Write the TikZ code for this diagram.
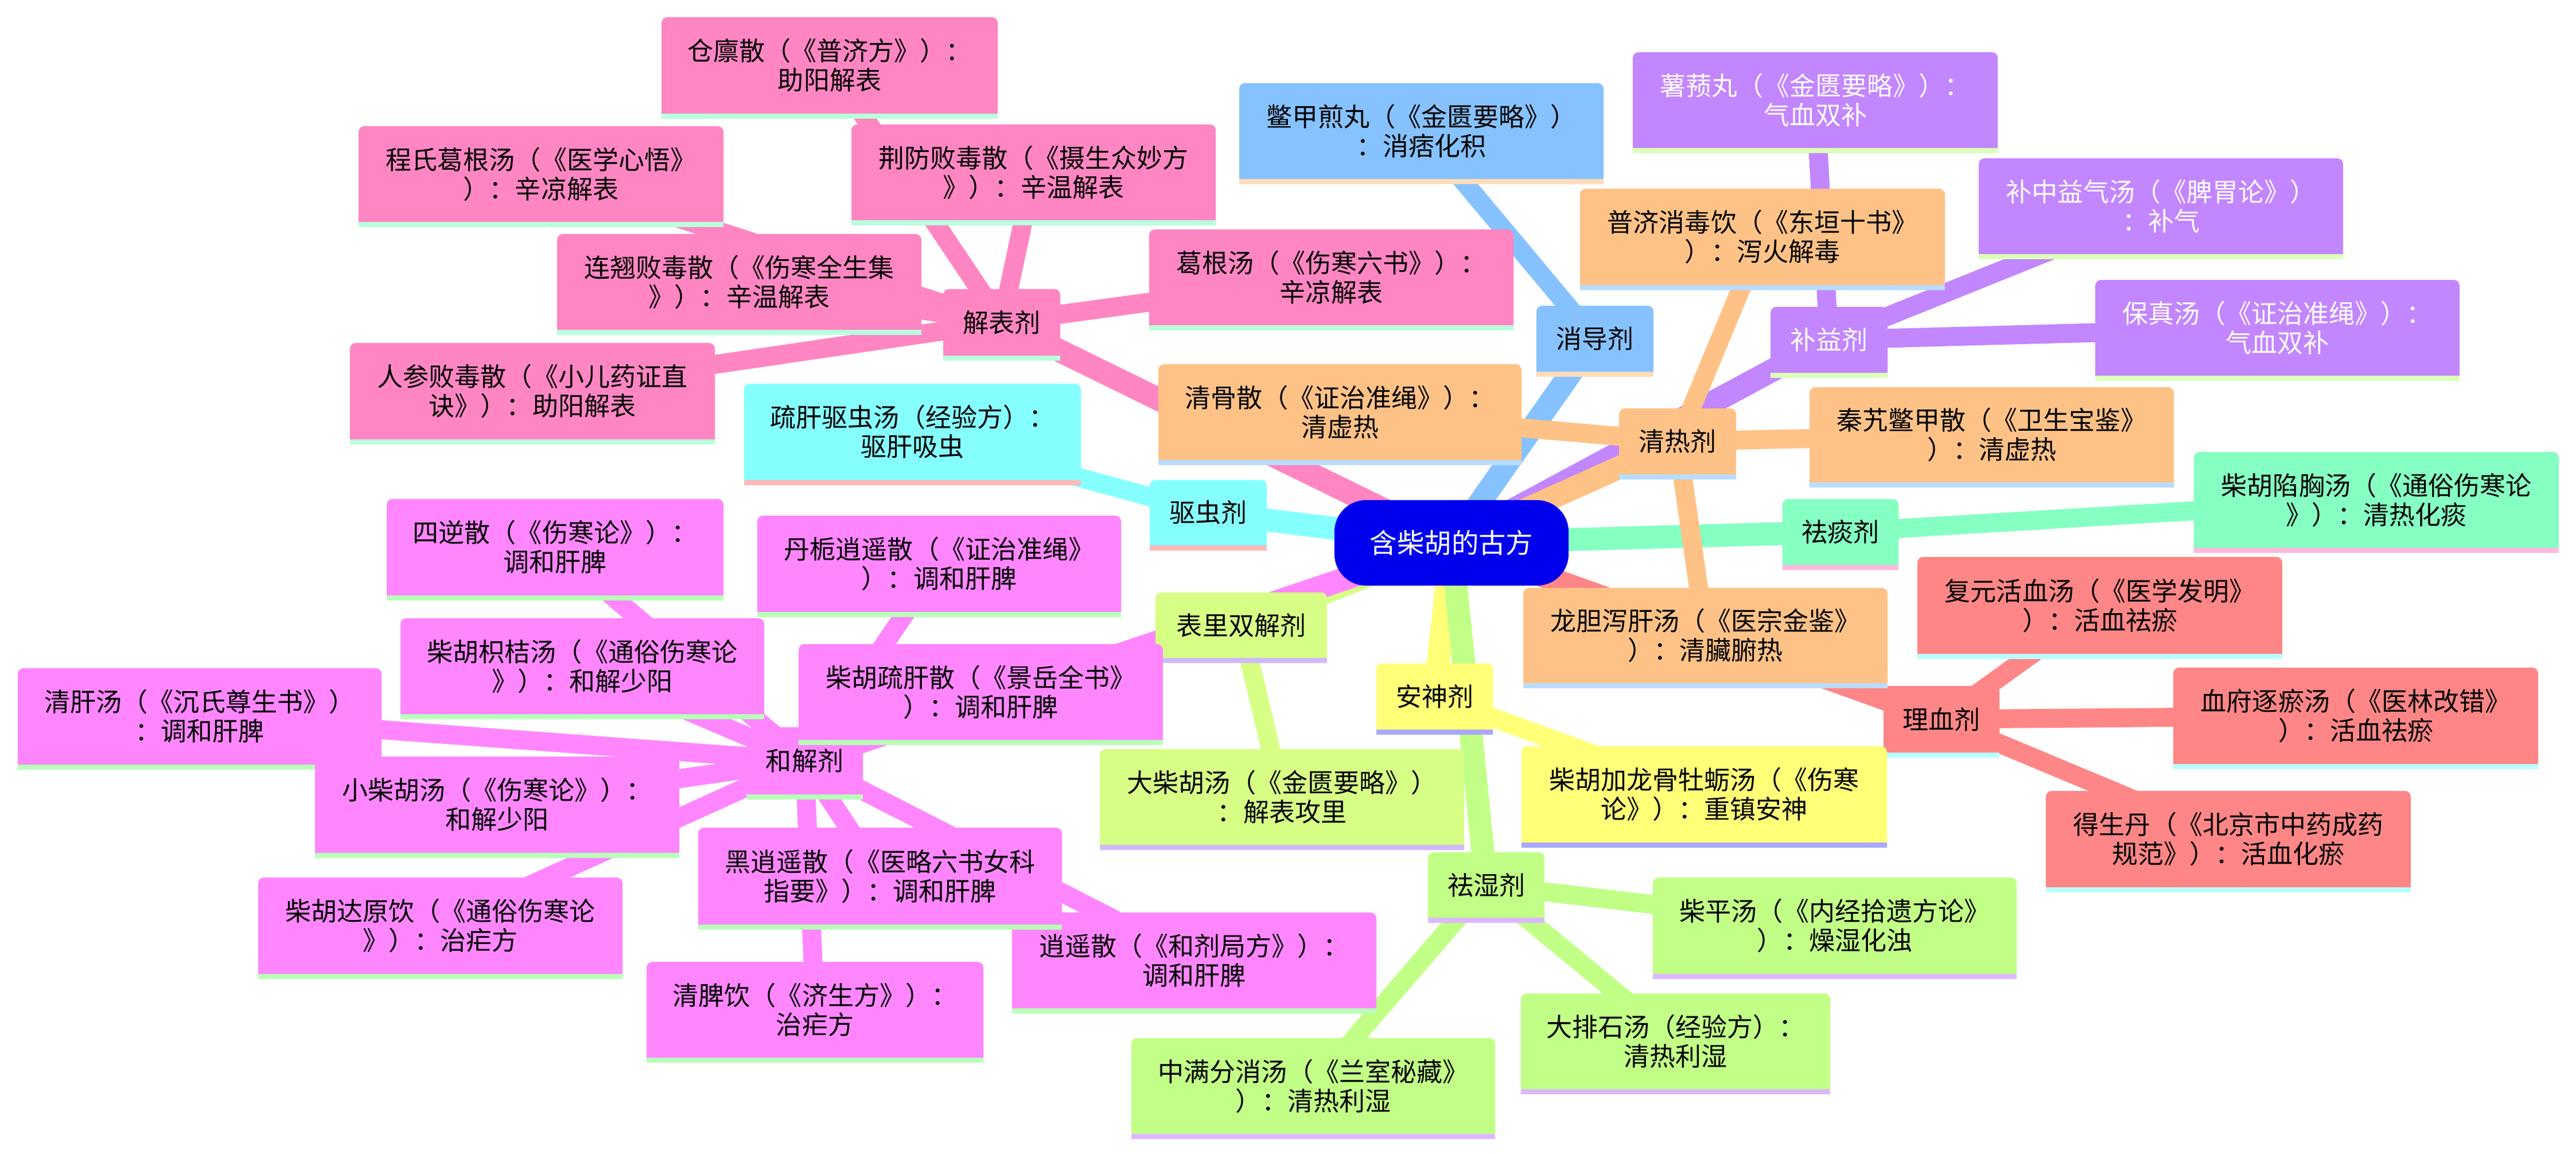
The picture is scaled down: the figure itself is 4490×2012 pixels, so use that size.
\documentclass[tikz,border=0pt]{standalone}
\usepackage{fontspec}
\newfontfamily\cjk{Noto Sans CJK SC}
\definecolor{rootc}{HTML}{0000EC}
\definecolor{cpink}{HTML}{FF86C2}\definecolor{spink}{HTML}{B9FFDC}
\definecolor{cblue}{HTML}{86C2FF}\definecolor{sblue}{HTML}{FFDCB9}
\definecolor{cpurp}{HTML}{C286FF}\definecolor{spurp}{HTML}{DCFFB9}
\definecolor{corng}{HTML}{FFC286}\definecolor{sorng}{HTML}{B9DCFF}
\definecolor{ccyan}{HTML}{86FFFF}\definecolor{scyan}{HTML}{FFB9B9}
\definecolor{cmint}{HTML}{86FFC2}\definecolor{smint}{HTML}{FFB9DC}
\definecolor{csalm}{HTML}{FF8686}\definecolor{ssalm}{HTML}{B9FFFF}
\definecolor{clime}{HTML}{D7FF86}\definecolor{slime}{HTML}{D0B9FF}
\definecolor{cmag}{HTML}{FF86FF}\definecolor{smag}{HTML}{B9FFB9}
\definecolor{cyel}{HTML}{FFFF78}\definecolor{syel}{HTML}{A9A9FF}
\definecolor{cgrn}{HTML}{C2FF86}\definecolor{sgrn}{HTML}{DCB9FF}
\pgfdeclarelayer{edges}
\pgfsetlayers{edges,main}
\tikzset{
  mmtext/.style={font=\cjk\fontsize{12.8pt}{14.5pt}\selectfont, align=center, inner sep=0pt},
  rootnode/.style={fill=rootc, text=white, rounded corners=0.55cm, minimum width=4.08cm, minimum height=1.49cm, inner sep=0pt, font=\cjk\fontsize{13.5pt}{16pt}\selectfont},
  eroot/.style={line width=0.4cm},
  eleaf/.style={line width=0.33cm}
}
% name, x1, y1, x2, y2(main bottom), fill, strip, text colour, text
\newcommand\mmnode[9]{%
  \fill[#6, rounded corners=0.1cm] (#2,#3) rectangle (#4,#5);
  \fill[#6] (#2,{(#3+#5)/2}) rectangle (#4,#5);
  \fill[#7] (#2,#5) rectangle (#4,{#5+9});
  \node[mmtext, text=#8] (#1) at ({(#2+#4)/2},{(#3+#5)/2}) {#9};
}
\begin{document}
\begin{tikzpicture}[x=0.01cm,y=-0.01cm]
\useasboundingbox (0,0) rectangle (4490,2012);
% root
\node[rootnode] (root) at (2530,946.5) {含柴胡的古方};
% categories
\mmnode{jbj}{1644}{504}{1848}{620}{cpink}{spink}{black}{解表剂}
\mmnode{xdj}{2678}{533}{2882}{648}{cblue}{sblue}{black}{消导剂}
\mmnode{byj}{3086}{535}{3290}{650}{cpurp}{spurp}{white}{补益剂}
\mmnode{qrj}{2822}{712}{3026}{827}{corng}{sorng}{black}{清热剂}
\mmnode{qcj}{2004}{837}{2208}{951}{ccyan}{scyan}{black}{驱虫剂}
\mmnode{qtj}{3107}{870}{3309}{985}{cmint}{smint}{black}{祛痰剂}
\mmnode{lxj}{3283}{1196}{3485}{1312}{csalm}{ssalm}{black}{理血剂}
\mmnode{blj}{2014}{1033}{2313}{1147}{clime}{slime}{black}{表里双解剂}
\mmnode{hjj}{1301}{1268}{1504}{1385}{cmag}{smag}{black}{和解剂}
\mmnode{asj}{2399}{1157}{2602}{1272}{cyel}{syel}{black}{安神剂}
\mmnode{qsj}{2489}{1486}{2692}{1600}{cgrn}{sgrn}{black}{祛湿剂}
% 解表剂 leaves
\mmnode{cls}{1153}{30}{1739}{198}{cpink}{spink}{black}{仓廪散（《普济方》）：\\助阳解表}
\mmnode{csgg}{625}{220}{1261}{387}{cpink}{spink}{black}{程氏葛根汤（《医学心悟》\\）：辛凉解表}
\mmnode{jfbd}{1484}{217}{2119}{384}{cpink}{spink}{black}{荆防败毒散（《摄生众妙方\\》）：辛温解表}
\mmnode{lqbd}{971}{408}{1606}{575}{cpink}{spink}{black}{连翘败毒散（《伤寒全生集\\》）：辛温解表}
\mmnode{ggt}{2003}{400}{2638}{567}{cpink}{spink}{black}{葛根汤（《伤寒六书》）：\\辛凉解表}
\mmnode{rsbd}{610}{598}{1246}{766}{cpink}{spink}{black}{人参败毒散（《小儿药证直\\诀》）：助阳解表}
% 消导剂 leaf
\mmnode{bjjw}{2160}{145}{2795}{312}{cblue}{sblue}{black}{鳖甲煎丸（《金匮要略》）\\：消痞化积}
% 补益剂 leaves
\mmnode{syw}{2846}{91}{3482}{258}{cpurp}{spurp}{white}{薯蓣丸（《金匮要略》）：\\气血双补}
\mmnode{bzyq}{3449}{276}{4084}{443}{cpurp}{spurp}{white}{补中益气汤（《脾胃论》）\\：补气}
\mmnode{bzt}{3652}{488}{4287}{655}{cpurp}{spurp}{white}{保真汤（《证治准绳》）：\\气血双补}
% 清热剂 leaves
\mmnode{pjxd}{2754}{329}{3390}{497}{corng}{sorng}{black}{普济消毒饮（《东垣十书》\\）：泻火解毒}
\mmnode{qgs}{2019}{635}{2652}{802}{corng}{sorng}{black}{清骨散（《证治准绳》）：\\清虚热}
\mmnode{qjbj}{3154}{675}{3789}{841}{corng}{sorng}{black}{秦艽鳖甲散（《卫生宝鉴》\\）：清虚热}
\mmnode{ldxg}{2655}{1025}{3290}{1191}{corng}{sorng}{black}{龙胆泻肝汤（《医宗金鉴》\\）：清臟腑热}
% 驱虫剂 leaf
\mmnode{sgqc}{1297}{669}{1884}{837}{ccyan}{scyan}{black}{疏肝驱虫汤（经验方）：\\驱肝吸虫}
% 祛痰剂 leaf
\mmnode{chxx}{3824}{788}{4460}{955}{cmint}{smint}{black}{柴胡陷胸汤（《通俗伤寒论\\》）：清热化痰}
% 理血剂 leaves
\mmnode{fyhx}{3342}{971}{3978}{1140}{csalm}{ssalm}{black}{复元活血汤（《医学发明》\\）：活血祛瘀}
\mmnode{xfzy}{3788}{1164}{4424}{1332}{csalm}{ssalm}{black}{血府逐瘀汤（《医林改错》\\）：活血祛瘀}
\mmnode{dsd}{3566}{1379}{4202}{1547}{csalm}{ssalm}{black}{得生丹（《北京市中药成药\\规范》）：活血化瘀}
% 和解剂 leaves
\mmnode{sns}{674}{870}{1261}{1038}{cmag}{smag}{black}{四逆散（《伤寒论》）：\\调和肝脾}
\mmnode{dzxy}{1320}{899}{1954}{1067}{cmag}{smag}{black}{丹栀逍遥散（《证治准绳》\\）：调和肝脾}
\mmnode{chzj}{698}{1078}{1332}{1245}{cmag}{smag}{black}{柴胡枳桔汤（《通俗伤寒论\\》）：和解少阳}
\mmnode{chsg}{1392}{1123}{2027}{1290}{cmag}{smag}{black}{柴胡疏肝散（《景岳全书》\\）：调和肝脾}
\mmnode{qgt}{31}{1165}{665}{1333}{cmag}{smag}{black}{清肝汤（《沉氏尊生书》）\\：调和肝脾}
\mmnode{xch}{549}{1319}{1184}{1487}{cmag}{smag}{black}{小柴胡汤（《伤寒论》）：\\和解少阳}
\mmnode{chdy}{450}{1530}{1085}{1698}{cmag}{smag}{black}{柴胡达原饮（《通俗伤寒论\\》）：治疟方}
\mmnode{xys}{1764}{1591}{2399}{1758}{cmag}{smag}{black}{逍遥散（《和剂局方》）：\\调和肝脾}
\mmnode{hxy}{1217}{1443}{1851}{1612}{cmag}{smag}{black}{黑逍遥散（《医略六书女科\\指要》）：调和肝脾}
\mmnode{qpy}{1127}{1677}{1714}{1844}{cmag}{smag}{black}{清脾饮（《济生方》）：\\治疟方}
% 表里双解剂 leaf
\mmnode{dch}{1917}{1306}{2552}{1473}{clime}{slime}{black}{大柴胡汤（《金匮要略》）\\：解表攻里}
% 安神剂 leaf
\mmnode{chjl}{2652}{1301}{3289}{1469}{cyel}{syel}{black}{柴胡加龙骨牡蛎汤（《伤寒\\论》）：重镇安神}
% 祛湿剂 leaves
\mmnode{cpt}{2881}{1530}{3515}{1698}{cgrn}{sgrn}{black}{柴平汤（《内经拾遗方论》\\）：燥湿化浊}
\mmnode{dps}{2651}{1732}{3190}{1899}{cgrn}{sgrn}{black}{大排石汤（经验方）：\\清热利湿}
\mmnode{zmfx}{1972}{1810}{2606}{1977}{cgrn}{sgrn}{black}{中满分消汤（《兰室秘藏》\\）：清热利湿}
% connectors
\begin{pgfonlayer}{edges}
\draw[eroot,cpink] (root.center) -- (jbj.center);
\draw[eroot,cblue] (root.center) -- (xdj.center);
\draw[eroot,cpurp] (root.center) -- (byj.center);
\draw[eroot,corng] (root.center) -- (qrj.center);
\draw[eroot,ccyan] (root.center) -- (qcj.center);
\draw[eroot,cmint] (root.center) -- (qtj.center);
\draw[eroot,csalm] (root.center) -- (lxj.center);
\draw[eroot,clime] (root.center) -- (blj.center);
\draw[eroot,cmag] (root.center) -- (hjj.center);
\draw[eroot,cyel] (root.center) -- (asj.center);
\draw[eroot,cgrn] (root.center) -- (qsj.center);
\foreach \n in {cls,csgg,jfbd,lqbd,ggt,rsbd} \draw[eleaf,cpink] (jbj.center) -- (\n.center);
\draw[eleaf,cblue] (xdj.center) -- (bjjw.center);
\foreach \n in {syw,bzyq,bzt} \draw[eleaf,cpurp] (byj.center) -- (\n.center);
\foreach \n in {pjxd,qgs,qjbj,ldxg} \draw[eleaf,corng] (qrj.center) -- (\n.center);
\draw[eleaf,ccyan] (qcj.center) -- (sgqc.center);
\draw[eleaf,cmint] (qtj.center) -- (chxx.center);
\foreach \n in {fyhx,xfzy,dsd} \draw[eleaf,csalm] (lxj.center) -- (\n.center);
\foreach \n in {sns,dzxy,chzj,chsg,qgt,xch,chdy,xys,hxy,qpy} \draw[eleaf,cmag] (hjj.center) -- (\n.center);
\draw[eleaf,clime] (blj.center) -- (dch.center);
\draw[eleaf,cyel] (asj.center) -- (chjl.center);
\foreach \n in {cpt,dps,zmfx} \draw[eleaf,cgrn] (qsj.center) -- (\n.center);
\end{pgfonlayer}
\end{tikzpicture}
\end{document}
